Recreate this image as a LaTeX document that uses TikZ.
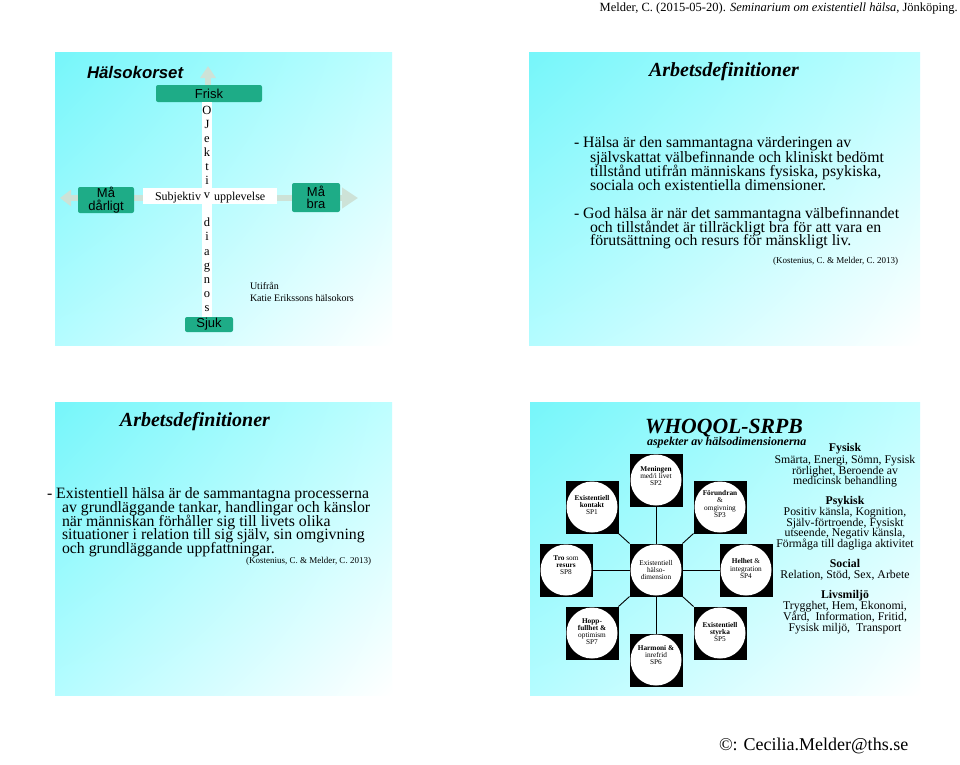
\documentclass[tikz,border=0pt]{standalone}
\usepackage{fontspec}
\setmainfont{Liberation Serif}
\newfontfamily\arialf{Liberation Sans}
\usetikzlibrary{arrows.meta,shadings}
\definecolor{cyanA}{RGB}{118,246,250}
\definecolor{cyanB}{RGB}{190,254,255}
\definecolor{cyanC}{RGB}{180,252,255}
\definecolor{boxgreen}{RGB}{30,172,135}
\definecolor{faintc}{RGB}{205,226,215}
\newcommand\fs[2]{\fontsize{#1}{#2}\selectfont}
\newcommand\spnode[5]{%
  \node[sq] (s#1) at (#2,#3) {};
  \node[cir] (c#1) at (#2,#3) {};
  \node[sptext] (t#1) at (#2,#4) {#5};
}
\tikzset{
  tx/.style={inner sep=0pt, outer sep=0pt, anchor=base west},
  gbox/.style={fill=boxgreen, rounded corners=2pt, inner sep=0pt, font=\arialf\fs{13}{12.5}, align=center},
  faintarrow/.style={draw=faintc, line width=6pt},
  sq/.style={fill=black, minimum size=53pt, inner sep=0pt, outer sep=0pt},
  cir/.style={circle, fill=white, minimum size=51pt, inner sep=0pt},
  sptext/.style={inner sep=0pt, align=center, font=\fs{7.3}{7.1}},
  conn/.style={draw=black, line width=0.9pt},
  titlef/.style={inner sep=0pt, anchor=base, font=\fs{20}{20}\bfseries\itshape},
  body/.style={tx, font=\fs{15.8}{15.8}},
  slidebg/.style={upper left=cyanA, upper right=cyanB, lower left=cyanC, lower right=white},
}
\begin{document}
\begin{tikzpicture}[x=1pt,y=-1pt]
\useasboundingbox[fill=white] (0,0) rectangle (960,764);

% slide backgrounds
\shade[slidebg] (55,52) rectangle (392,345);
\shade[slidebg] (529,52) rectangle (920,345);
\shade[slidebg] (55,402) rectangle (392,695);
\shade[slidebg] (530,402) rectangle (920,695);

% header and footer
\node[inner sep=0pt, anchor=base east, font=\fs{12.5}{12.5}] (hd) at (958,11)
  {Melder, C. (2015-05-20). \textit{Seminarium om existentiell hälsa}, Jönköping.};
\node[tx, font=\fs{18}{18}] (ft) at (719,750) {©: Cecilia.Melder@ths.se};

% ---------- slide 1: Hälsokorset ----------
\coordinate (hl) at (60,198);
\coordinate (hr) at (358,198);
\coordinate (vt) at (208,66);
\coordinate (vb) at (208,318);
\draw[faintarrow, {Triangle[width=16pt,length=11pt]}-{Triangle[width=20pt,length=16pt]}] (hl) -- (hr);
\draw[faintarrow, -{Triangle[width=15pt,length=12pt]}] (vb) -- (vt);

\node[tx, font=\arialf\bfseries\itshape\fs{16.8}{16.8}] (hk) at (87,78.5) {Hälsokorset};

\node[gbox, minimum width=106pt, minimum height=17pt] (frisk) at (209,93.5) {Frisk};
\node[gbox, minimum width=56pt, minimum height=26pt] (mad) at (106,200) {Må\\dårligt};
\node[gbox, minimum width=48pt, minimum height=29pt] (mab) at (316,197.5) {Må\\bra};
\node[gbox, minimum width=48pt, minimum height=15pt] (sjuk) at (209,324.5) {Sjuk};

\fill[white] (202,102) rectangle (212,317);
\fill[white] (143,188) rectangle (277,204);

\foreach \l [count=\i from 0] in {O,J,e,k,t,i,v,{},d,i,a,g,n,o,s}
  \node[inner sep=0pt, anchor=base, font=\fs{12.5}{12.5}] (v\i) at (207,{114+14.1*\i}) {\l};

\node[tx, anchor=base east, font=\fs{12}{12}] (subj) at (201,200) {Subjektiv};
\node[tx, font=\fs{12}{12}] (uppl) at (214,200) {upplevelse};

\node[tx, font=\fs{10}{10}] (u1) at (250,289) {Utifrån};
\node[tx, font=\fs{10}{10}] (u2) at (250,301) {Katie Erikssons hälsokors};

% ---------- slide 2 ----------
\node[titlef] (t2) at (724,76.5) {Arbetsdefinitioner};
\node[body] (d1) at (574,147) {- Hälsa är den sammantagna värderingen av};
\node[body] (d2) at (590,162) {självskattat välbefinnande och kliniskt bedömt};
\node[body] (d3) at (590,176) {tillstånd utifrån människans fysiska, psykiska,};
\node[body] (d4) at (590,190) {sociala och existentiella dimensioner.};
\node[body] (d5) at (574,218) {- God hälsa är när det sammantagna välbefinnandet};
\node[body] (d6) at (590,232) {och tillståndet är tillräckligt bra för att vara en};
\node[body] (d7) at (590,245.5) {förutsättning och resurs för mänskligt liv.};
\node[tx, anchor=base east, font=\fs{9}{9}] (d8) at (898,263) {(Kostenius, C. \& Melder, C. 2013)};

% ---------- slide 3 ----------
\node[titlef] (t3) at (195,426.5) {Arbetsdefinitioner};
\node[body] (e1) at (47,498) {- Existentiell hälsa är de sammantagna processerna};
\node[body] (e2) at (62,512) {av grundläggande tankar, handlingar och känslor};
\node[body] (e3) at (62,526) {när människan förhåller sig till livets olika};
\node[body] (e4) at (62,539.5) {situationer i relation till sig själv, sin omgivning};
\node[body] (e5) at (62,553) {och grundläggande uppfattningar.};
\node[tx, anchor=base east, font=\fs{9}{9}] (e6) at (371,563.5) {(Kostenius, C. \& Melder, C. 2013)};

% ---------- slide 4 ----------
\node[tx, font=\fs{21.7}{21.7}\bfseries\itshape] (w1) at (645,433) {WHOQOL-SRPB};
\node[tx, font=\fs{12}{12}\bfseries\itshape] (w2) at (647,445) {aspekter av hälsodimensionerna};

\spnode{0}{656}{570}{570}{Existentiell\\hälso-\\dimension}
\spnode{2}{656}{480}{476}{\textbf{Meningen}\\med/i livet\\SP2}
\spnode{1}{592}{507}{505}{\textbf{Existentiell}\\\textbf{kontakt}\\SP1}
\spnode{3}{720}{507}{504}{\textbf{Förundran}\\\&\\omgivning\\SP3}
\spnode{4}{746}{570}{568.5}{\textbf{Helhet} \&\\integration\\SP4}
\spnode{8}{566}{570}{565.5}{\textbf{Tro} som\\\textbf{resurs}\\SP8}
\spnode{7}{592}{633}{631.5}{\textbf{Hopp-}\\\textbf{fullhet \&}\\optimism\\SP7}
\spnode{6}{656}{660}{655}{\textbf{Harmoni \&}\\inrefrid\\SP6}
\spnode{5}{720}{633}{632}{\textbf{Existentiell}\\\textbf{styrka}\\SP5}

\draw[conn] (s0.north) -- (s2.south);
\draw[conn] (s0.south) -- (s6.north);
\draw[conn] (s8.east) -- (s0.west);
\draw[conn] (s0.east) -- (s4.west);
\draw[conn] (s0.north west) -- (s1.south east);
\draw[conn] (s0.north east) -- (s3.south west);
\draw[conn] (s0.south west) -- (s7.north east);
\draw[conn] (s0.south east) -- (s5.north west);

\foreach \t/\y/\b [count=\i] in {
  Fysisk/451.5/1,
  {Smärta, Energi, Sömn, Fysisk}/463/0,
  {rörlighet, Beroende av}/474/0,
  {medicinsk behandling}/484.5/0,
  Psykisk/504/1,
  {Positiv känsla, Kognition,}/515/0,
  {Själv-förtroende, Fysiskt}/526/0,
  {utseende, Negativ känsla,}/536.5/0,
  {Förmåga till dagliga aktivitet}/547/0,
  Social/567/1,
  {Relation, Stöd, Sex, Arbete}/578/0,
  Livsmiljö/598/1,
  {Trygghet, Hem, Ekonomi,}/609/0,
  {Vård,\ \ Information, Fritid,}/620/0,
  {Fysisk miljö,\ \ Transport}/631/0}
  \node[inner sep=0pt, anchor=base, font=\fs{11.8}{11.8}] (r\i) at (845,\y) {\ifnum\b=1\bfseries\fi\t};
\end{tikzpicture}
\end{document}
